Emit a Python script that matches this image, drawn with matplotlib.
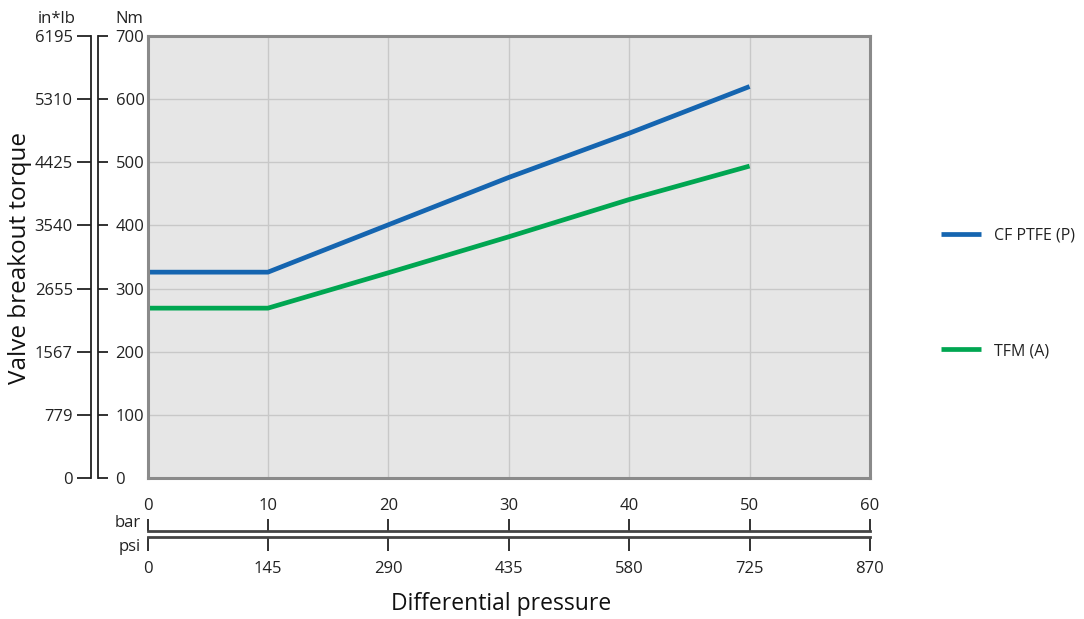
import matplotlib.pyplot as plt

# data
pressure_bar = [0, 10, 20, 30, 40, 50]
cf_ptfe = [326, 326, 401, 476, 546, 620]
tfm = [269, 269, 325, 382, 441, 494]

nm_ticks = [0, 100, 200, 300, 400, 500, 600, 700]
inlb_labels = ['0', '779', '1567', '2655', '3540', '4425', '5310', '6195']
bar_ticks = [0, 10, 20, 30, 40, 50, 60]
psi_ticks = [0, 145, 290, 435, 580, 725, 870]

plt.rcParams['font.family'] = ['Open Sans', 'DejaVu Sans']
W, H = 1084, 619


def rect(x0, y0, x1, y1):
    # pixel box (top-left origin) -> figure fraction
    return [x0 / W, 1 - y1 / H, (x1 - x0) / W, (y1 - y0) / H]


fig = plt.figure(figsize=(W / 100, H / 100), dpi=100)

# main plot area
ax = fig.add_axes(rect(147.5, 36, 870, 478))
ax.set_facecolor('#e6e6e6')
ax.plot(pressure_bar, cf_ptfe, color='#1565b0', lw=3.4, label='CF PTFE (P)',
        solid_capstyle='butt')
ax.plot(pressure_bar, tfm, color='#00a651', lw=3.4, label='TFM (A)',
        solid_capstyle='butt')
ax.set_xlim(0, 60)
ax.set_ylim(0, 700)
ax.set_xticks(bar_ticks)
ax.set_yticks(nm_ticks)
ax.tick_params(length=0, labelbottom=False, labelleft=False)
ax.grid(True, color='#c8c8c8', lw=1)
ax.set_axisbelow(True)
for s in ax.spines.values():
    s.set_color('#8a8a8a')
    s.set_linewidth(2.2)

tick_font = 12
dark = '#222222'

# Nm axis
ax_nm = fig.add_axes(rect(60, 36, 97.5, 478))
ax_nm.patch.set_visible(False)
for k in ['left', 'top', 'bottom']:
    ax_nm.spines[k].set_visible(False)
ax_nm.spines['right'].set_color(dark)
ax_nm.spines['right'].set_linewidth(1.3)
ax_nm.set_ylim(0, 700)
ax_nm.set_xticks([])
ax_nm.yaxis.tick_right()
ax_nm.set_yticks(nm_ticks)
ax_nm.tick_params(axis='y', direction='out', length=7, width=1.3,
                  color=dark, pad=6, labelsize=tick_font, labelcolor=dark)

# in*lb axis
ax_in = fig.add_axes(rect(91, 36, 96, 478))
ax_in.patch.set_visible(False)
for k in ['right', 'top', 'bottom']:
    ax_in.spines[k].set_visible(False)
ax_in.spines['left'].set_color(dark)
ax_in.spines['left'].set_linewidth(1.3)
ax_in.set_ylim(0, 700)
ax_in.set_xticks([])
ax_in.set_yticks(nm_ticks)
ax_in.set_yticklabels(inlb_labels)
ax_in.tick_params(axis='y', direction='out', length=10, width=1.3,
                  color=dark, pad=3, labelsize=tick_font, labelcolor=dark)

# bar axis
ax_bar = fig.add_axes(rect(147.5, 531, 870, 533))
ax_bar.patch.set_visible(False)
for k in ['left', 'right', 'bottom']:
    ax_bar.spines[k].set_visible(False)
ax_bar.spines['top'].set_color('#444444')
ax_bar.spines['top'].set_linewidth(2)
ax_bar.set_xlim(0, 60)
ax_bar.set_yticks([])
ax_bar.xaxis.tick_top()
ax_bar.set_xticks(bar_ticks)
ax_bar.tick_params(axis='x', direction='out', length=9, width=1.3,
                   color=dark, pad=3, labelsize=tick_font, labelcolor=dark)

# psi axis
ax_psi = fig.add_axes(rect(147.5, 535, 870, 537))
ax_psi.patch.set_visible(False)
for k in ['left', 'right', 'top']:
    ax_psi.spines[k].set_visible(False)
ax_psi.spines['bottom'].set_color('#444444')
ax_psi.spines['bottom'].set_linewidth(2)
ax_psi.set_xlim(0, 870)
ax_psi.set_yticks([])
ax_psi.set_xticks(psi_ticks)
ax_psi.tick_params(axis='x', direction='out', length=10, width=1.3,
                   color=dark, pad=7, labelsize=tick_font, labelcolor=dark)

# unit and axis labels
fig.text(57 / W, 1 - 19 / H, 'in*lb', ha='center', va='center',
         fontsize=tick_font, color=dark)
fig.text(129 / W, 1 - 19 / H, 'Nm', ha='center', va='center',
         fontsize=tick_font, color=dark)
fig.text(141 / W, 1 - 523 / H, 'bar', ha='right', va='center',
         fontsize=tick_font, color=dark)
fig.text(141 / W, 1 - 547 / H, 'psi', ha='right', va='center',
         fontsize=tick_font, color=dark)
fig.text(20 / W, 1 - 258 / H, 'Valve breakout torque', rotation=90,
         ha='center', va='center', fontsize=17.5, color='#111111')
fig.text(501 / W, 1 - 604 / H, 'Differential pressure', ha='center',
         va='center', fontsize=16.5, color='#111111')

fig.legend(loc='upper left', bbox_to_anchor=(933 / W, 1 - 220 / H),
           frameon=False, fontsize=11.5, handlelength=2.5, handletextpad=0.8,
           labelspacing=6.2, borderpad=0, labelcolor=dark)

fig.savefig('out.png', dpi=100)
